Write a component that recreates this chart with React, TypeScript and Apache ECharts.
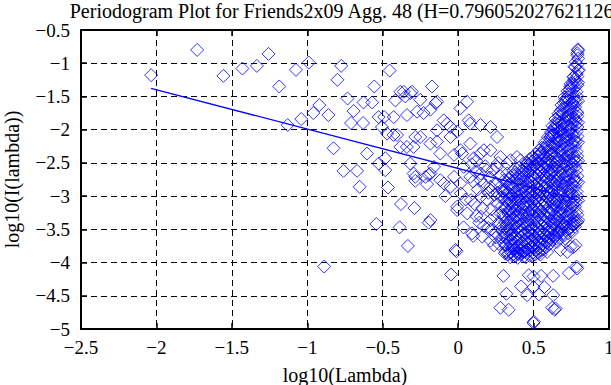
import React, { useEffect, useRef } from "react";
import * as echarts from "echarts";

const TITLE = "Periodogram Plot for Friends2x09 Agg. 48 (H=0.796052027621126)";
const X_NAME = "log10(Lambda)";
const Y_NAME = "log10(I(lambda))";
const X_MIN = -2.5;
const X_MAX = 1;
const Y_MIN = -5;
const Y_MAX = -0.5;
const TICK_STEP = 0.5;

// sparse low-frequency points
const lowFreqPoints: [number, number][] = [
  [-2.035, -1.18], [-1.73, -0.8], [-1.556, -1.19], [-1.43, -1.08], [-1.334, -1.04],
  [-1.257, -0.86], [-1.186, -1.35], [-1.075, -1.1], [-0.99, -0.99], [-1.13, -1.93],
  [-1.04, -1.84], [-0.96, -1.75], [-0.92, -1.63], [-0.86, -1.78], [-0.826, -2.28],
  [-0.775, -1.04], [-0.8, -1.25], [-0.76, -2.62], [-0.733, -1.53], [-0.556, -1.35],
  [-0.454, -1.11], [-0.693, -1.72], [-0.63, -1.9], [-0.71, -1.9], [-0.627, -1.59],
  [-0.57, -1.59], [-0.527, -1.81], [-0.505, -1.96], [-0.604, -2.36], [-0.67, -2.62],
  [-0.527, -2.51], [-0.483, -2.43], [-0.483, -2.61], [-0.653, -2.86], [-0.465, -2.87],
  [-0.542, -3.42], [-0.888, -4.06], [-0.427, -1.81], [-0.416, -1.56], [-0.36, -1.43],
  [-0.317, -1.45], [-0.405, -2.08], [-0.34, -2.26], [-0.284, -2.11], [-0.317, -2.51],
  [-0.284, -2.71], [-0.379, -3.12], [-0.29, -3.18], [-0.388, -3.47], [-0.333, -3.75],
  [-0.49, -1.81], [-0.383, -1.43], [-0.35, -1.5], [-0.306, -1.43], [-0.339, -1.78],
  [-0.471, -2.06], [-0.428, -2.08], [-0.383, -2.26], [-0.295, -2.26], [-0.295, -2.66],
];

// the left arm of the cloud
const armPoints: [number, number][] = [
  [-0.284, -2.77], [-0.206, -2.82], [-0.195, -2.68], [-0.085, -3.0], [-0.007, -3.16],
  [-0.195, -3.4], [-0.047, -4.18], [-0.018, -3.81], [-0.173, -1.35], [-0.251, -1.55],
  [-0.14, -1.58], [0.059, -1.58], [0.015, -1.68], [-0.272, -1.73], [-0.229, -1.75],
  [-0.184, -1.7], [-0.096, -1.86], [-0.051, -1.96], [-0.14, -2.01], [0.07, -1.86],
  [0.148, -1.93], [0.214, -1.96], [0.258, -2.11], [-0.251, -2.11], [-0.184, -2.21],
  [-0.051, -2.11], [0.015, -2.31], [0.081, -2.21], [0.148, -2.36], [0.214, -2.31],
  [0.28, -2.41], [0.347, -2.46], [0.413, -2.46], [0.457, -2.51], [0.524, -2.46],
  [0.546, -2.36], [0.59, -2.26], [0.612, -2.11], [0.634, -2.01], [-0.184, -2.66],
  [-0.118, -2.76], [-0.051, -2.86], [0.015, -2.81], [0.081, -2.71], [0.148, -2.76],
  [0.214, -2.86], [-0.15, -1.6], [-0.073, -1.91], [-0.007, -2.03], [0.08, -1.91],
  [-0.14, -2.18], [-0.217, -2.71], [-0.16, -2.56], [-0.094, -2.81], [-0.027, -2.71],
  [-0.118, -2.36], [-0.027, -2.38], [0.026, -2.36], [0.104, -2.43], [0.17, -2.31],
  [0.037, -2.56], [0.115, -2.63], [0.19, -2.61], [0.257, -2.56], [0.323, -2.51],
  [0.39, -2.41], [0.018, -2.96], [0.085, -3.06], [0.15, -3.01], [0.215, -2.91],
  [0.28, -2.86], [-0.184, -3.36], [-0.007, -3.21], [0.06, -3.26], [0.15, -3.31],
  [0.215, -3.36], [0.28, -3.26], [-0.011, -3.83], [0.092, -3.56], [0.036, -3.47],
  [0.16, -3.61], [0.215, -3.67], [0.238, -3.74],
];

// moderately dense band between the arm and the core
const bandPoints: [number, number][] = [
  [0.09, -2.52], [0.1, -2.78], [0.11, -3.12], [0.12, -2.47], [0.13, -2.9],
  [0.14, -3.4], [0.15, -2.66], [0.16, -3.18], [0.17, -2.83], [0.18, -2.55],
  [0.19, -3.05], [0.2, -3.48], [0.21, -2.72], [0.22, -3.2], [0.23, -2.6],
  [0.24, -2.98], [0.245, -3.55], [0.25, -2.8], [0.26, -3.12], [0.265, -2.5],
  [0.27, -3.4], [0.28, -2.7], [0.285, -3.02], [0.29, -3.62], [0.295, -2.92],
  [0.3, -3.28], [0.2, -2.95], [0.22, -3.5], [0.24, -3.3], [0.25, -3.62],
  [0.26, -2.95], [0.27, -3.72], [0.28, -3.48], [0.29, -3.15], [0.3, -3.55],
  [0.3, -2.95], [0.12, -3.3], [0.17, -3.45], [0.05, -3.05], [0.1, -3.6],
];

// lower tail and outliers of the cloud
const tailPoints: [number, number][] = [
  [0.3, -4.2], [0.32, -4.47], [0.28, -4.68], [0.335, -4.71], [0.418, -4.36],
  [0.457, -4.49], [0.535, -4.48], [0.5, -4.21], [0.468, -4.19], [0.572, -4.37],
  [0.63, -4.2], [0.623, -4.68], [0.64, -4.71], [0.63, -4.49], [0.734, -4.16],
  [0.785, -4.06], [0.763, -3.77], [0.724, -3.84], [0.39, -3.86], [0.5, -4.91],
  [0.502, -4.89], [0.313, -3.74], [0.335, -3.86], [0.368, -3.91], [0.535, -3.86],
  [0.59, -3.84], [0.39, -3.76], [0.434, -3.84], [0.678, -3.81], [0.745, -3.76],
  [0.778, -3.74], [0.767, -3.41], [0.79, -3.39], [0.789, -4.09], [0.645, -4.69],
  [0.5, -4.37], [0.55, -4.2],
];

// top of the high-frequency column
const columnTopPoints: [number, number][] = [
  [0.794, -0.79], [0.79, -0.85], [0.772, -1.05], [0.8, -1.1], [0.767, -1.2],
  [0.745, -1.35], [0.79, -1.33], [0.71, -1.55], [0.756, -1.6], [0.69, -1.75],
  [0.734, -1.81], [0.79, -1.75], [0.635, -2.06], [0.68, -2.0], [0.724, -2.06],
  [0.79, -1.96],
];

// dense core, first pass: column x positions and the y values read in each column
const coreX: number[] = [
  0.305, 0.315, 0.325, 0.335, 0.345, 0.355, 0.365, 0.375, 0.385, 0.395,
  0.405, 0.415, 0.425, 0.435, 0.445, 0.455, 0.465, 0.475, 0.485, 0.495,
  0.505, 0.515, 0.525, 0.535, 0.545, 0.555, 0.565, 0.575, 0.585, 0.595,
  0.605, 0.615, 0.625, 0.635, 0.645, 0.655, 0.665, 0.675, 0.685, 0.695,
  0.705, 0.715, 0.725, 0.735, 0.745, 0.755, 0.765, 0.775, 0.785, 0.795,
];
const coreY: number[][] = [
  [-2.76, -3.04, -3.31, -3.47, -3.71],
  [-2.91, -3.18, -3.56, -3.84],
  [-2.66, -2.98, -3.36, -3.63],
  [-2.83, -3.11, -3.27, -3.49, -3.79],
  [-2.71, -2.97, -3.22, -3.58, -3.92],
  [-2.87, -3.16, -3.43, -3.73],
  [-2.62, -3.03, -3.33, -3.64, -3.88],
  [-2.77, -2.94, -3.21, -3.53, -3.81],
  [-2.67, -3.09, -3.39, -3.69],
  [-2.84, -3.01, -3.29, -3.57, -3.93],
  [-2.57, -2.92, -3.14, -3.46, -3.76],
  [-2.74, -3.06, -3.34, -3.61, -3.87],
  [-2.61, -2.88, -3.19, -3.51, -3.78],
  [-2.79, -3.12, -3.41, -3.67, -3.91],
  [-2.54, -2.94, -3.24, -3.56, -3.83],
  [-2.49, -2.73, -3.01, -3.31, -3.59, -3.86],
  [-2.63, -2.87, -3.16, -3.44, -3.72],
  [-2.44, -2.78, -3.04, -3.36, -3.63, -3.9],
  [-2.57, -2.93, -3.21, -3.49, -3.77],
  [-2.41, -2.69, -2.99, -3.27, -3.58, -3.85],
  [-2.53, -2.84, -3.12, -3.43, -3.71],
  [-2.37, -2.66, -2.96, -3.24, -3.54, -3.82],
  [-2.51, -2.81, -3.08, -3.39, -3.66],
  [-2.31, -2.61, -2.89, -3.19, -3.51, -3.79],
  [-2.46, -2.74, -3.03, -3.33, -3.62, -3.88],
  [-2.27, -2.56, -2.86, -3.14, -3.44, -3.73],
  [-2.39, -2.68, -2.97, -3.29, -3.57, -3.8],
  [-2.19, -2.51, -2.79, -3.11, -3.41, -3.68],
  [-2.33, -2.63, -2.91, -3.23, -3.52, -3.77],
  [-2.11, -2.43, -2.72, -3.02, -3.33, -3.61],
  [-2.24, -2.54, -2.86, -3.16, -3.46, -3.72],
  [-2.04, -2.36, -2.66, -2.94, -3.26, -3.55],
  [-1.94, -2.21, -2.49, -2.77, -3.07, -3.38, -3.66],
  [-2.08, -2.34, -2.63, -2.93, -3.21, -3.5],
  [-1.84, -2.13, -2.41, -2.71, -3.01, -3.31, -3.6],
  [-1.98, -2.27, -2.56, -2.84, -3.14, -3.44, -3.69],
  [-1.76, -2.03, -2.33, -2.61, -2.92, -3.23, -3.52],
  [-1.89, -2.17, -2.47, -2.79, -3.09, -3.37, -3.63],
  [-1.63, -1.93, -2.23, -2.51, -2.81, -3.12, -3.41],
  [-1.77, -2.07, -2.38, -2.67, -2.98, -3.27, -3.56],
  [-1.51, -1.82, -2.12, -2.43, -2.72, -3.03, -3.32, -3.59],
  [-1.66, -1.96, -2.26, -2.54, -2.86, -3.16, -3.46],
  [-1.42, -1.71, -2.02, -2.31, -2.62, -2.91, -3.22, -3.51],
  [-1.56, -1.86, -2.16, -2.46, -2.76, -3.06, -3.36],
  [-1.31, -1.61, -1.91, -2.21, -2.49, -2.81, -3.11, -3.41],
  [-1.46, -1.74, -2.06, -2.36, -2.66, -2.96, -3.26, -3.54],
  [-1.21, -1.51, -1.81, -2.09, -2.41, -2.71, -3.01, -3.31],
  [-1.06, -1.36, -1.66, -1.94, -2.26, -2.56, -2.86, -3.16, -3.46],
  [-1.16, -1.43, -1.73, -2.03, -2.33, -2.61, -2.93, -3.23],
  [-0.81, -0.93, -1.11, -1.29, -1.57, -1.89, -2.19, -2.47, -2.79, -3.07, -3.36],
];

// dense core, second pass (in between the first columns)
const coreX2: number[] = [
  0.31, 0.32, 0.33, 0.34, 0.35, 0.36, 0.37, 0.38, 0.39, 0.4,
  0.41, 0.42, 0.43, 0.44, 0.45, 0.46, 0.47, 0.48, 0.49, 0.5,
  0.51, 0.52, 0.53, 0.54, 0.55, 0.56, 0.57, 0.58, 0.59, 0.6,
  0.61, 0.62, 0.63, 0.64, 0.65, 0.66, 0.67, 0.68, 0.69, 0.7,
  0.71, 0.72, 0.73, 0.74, 0.75, 0.76, 0.77, 0.78, 0.79,
];
const coreY2: number[][] = [
  [-2.9, -3.17, -3.39, -3.62, -3.86],
  [-2.78, -3.08, -3.45, -3.74],
  [-2.95, -3.23, -3.52, -3.88],
  [-2.74, -3.04, -3.38, -3.68],
  [-2.82, -3.09, -3.35, -3.66, -3.85],
  [-2.69, -2.99, -3.27, -3.57, -3.8],
  [-2.88, -3.13, -3.46, -3.74],
  [-2.64, -3.05, -3.31, -3.63, -3.9],
  [-2.74, -2.93, -3.22, -3.47, -3.82],
  [-2.69, -3.06, -3.37, -3.65, -3.87],
  [-2.82, -3.0, -3.25, -3.54, -3.81],
  [-2.66, -2.95, -3.27, -3.43, -3.71],
  [-2.72, -3.03, -3.3, -3.58, -3.84],
  [-2.64, -2.86, -3.17, -3.48, -3.75],
  [-2.61, -2.83, -3.1, -3.42, -3.7, -3.92],
  [-2.55, -2.8, -3.07, -3.37, -3.64, -3.8],
  [-2.52, -2.95, -3.26, -3.53, -3.82],
  [-2.61, -2.86, -3.13, -3.43, -3.7],
  [-2.48, -2.79, -3.07, -3.36, -3.66, -3.9],
  [-2.56, -2.92, -3.2, -3.49, -3.78],
  [-2.44, -2.73, -3.04, -3.33, -3.62, -3.88],
  [-2.58, -2.88, -3.16, -3.46, -3.74],
  [-2.41, -2.69, -2.99, -3.29, -3.58, -3.85],
  [-2.38, -2.66, -2.95, -3.25, -3.55, -3.72],
  [-2.34, -2.63, -2.92, -3.22, -3.52, -3.81],
  [-2.45, -2.77, -3.06, -3.36, -3.65],
  [-2.28, -2.59, -2.87, -3.17, -3.48, -3.74],
  [-2.41, -2.71, -3.0, -3.31, -3.6],
  [-2.22, -2.53, -2.82, -3.12, -3.43, -3.7],
  [-2.31, -2.61, -2.94, -3.24, -3.54, -3.66],
  [-2.15, -2.46, -2.77, -3.06, -3.37, -3.63],
  [-2.08, -2.35, -2.62, -2.91, -3.2, -3.48],
  [-1.99, -2.27, -2.56, -2.84, -3.14, -3.43, -3.6],
  [-1.96, -2.24, -2.53, -2.82, -3.12, -3.4],
  [-1.91, -2.2, -2.49, -2.78, -3.08, -3.37, -3.64],
  [-1.86, -2.15, -2.45, -2.74, -3.04, -3.33, -3.58],
  [-1.8, -2.1, -2.4, -2.7, -2.99, -3.3, -3.55],
  [-1.72, -2.02, -2.33, -2.64, -2.94, -3.24, -3.5],
  [-1.69, -1.99, -2.3, -2.59, -2.9, -3.19, -3.47],
  [-1.6, -1.9, -2.2, -2.52, -2.83, -3.13, -3.44],
  [-1.58, -1.88, -2.17, -2.48, -2.79, -3.09, -3.39, -3.64],
  [-1.52, -1.81, -2.11, -2.4, -2.7, -3.0, -3.3],
  [-1.47, -1.78, -2.08, -2.38, -2.68, -2.98, -3.28, -3.56],
  [-1.4, -1.7, -2.0, -2.3, -2.61, -2.93, -3.23, -3.49],
  [-1.36, -1.66, -1.97, -2.27, -2.57, -2.87, -3.17, -3.46],
  [-1.3, -1.6, -1.9, -2.2, -2.51, -2.82, -3.13, -3.43],
  [-1.25, -1.55, -1.85, -2.16, -2.46, -2.76, -3.06, -3.37],
  [-0.98, -1.28, -1.58, -1.87, -2.18, -2.48, -2.78, -3.08, -3.4],
  [-0.88, -1.02, -1.2, -1.5, -1.8, -2.1, -2.4, -2.7, -3.0, -3.28],
];

// least-squares fit line
const fitX: number[] = [-2.036, 0.798];
const fitY: number[] = [-1.378, -3.056];

const FONT = "Liberation Serif";
const BLUE = "#0000ff";

const fmt = (v: number) => {
  const r = Math.round(v * 10) / 10;
  return String(r).replace("-", "\u2212");
};

export default function App() {
  const ref = useRef<HTMLDivElement>(null);
  useEffect(() => {
    if (!ref.current) return;
    const chart = echarts.init(ref.current, undefined, { renderer: "svg" });
    const corePoints: [number, number][] = [];
    coreX.forEach((x, i) => coreY[i].forEach((y) => corePoints.push([x, y])));
    coreX2.forEach((x, i) => coreY2[i].forEach((y) => corePoints.push([x, y])));
    const allPoints = [
      ...lowFreqPoints,
      ...armPoints,
      ...bandPoints,
      ...tailPoints,
      ...columnTopPoints,
      ...corePoints,
    ];
    const axisLine = { show: true, onZero: false, lineStyle: { color: "#000", width: 2 } };
    const axisTick = { show: true, inside: true, length: 6, lineStyle: { color: "#000", width: 1.5 } };
    const splitLine = { show: true, lineStyle: { color: "#000", width: 1, type: [6, 4] as any } };
    const labelStyle = { color: "#000", fontFamily: FONT, fontSize: 19 };
    chart.setOption({
      animation: false,
      backgroundColor: "#fff",
      grid: {
        left: 81,
        right: 2,
        top: 30,
        bottom: 56,
        containLabel: false,
        outerBoundsMode: "none",
      },
      graphic: [
        {
          type: "text",
          x: 345,
          y: 1,
          style: {
            text: TITLE,
            fontFamily: FONT,
            fontSize: 20,
            fill: "#000",
            align: "center",
            verticalAlign: "top",
          },
        },
      ],
      xAxis: [
        {
          type: "value",
          position: "bottom",
          min: X_MIN,
          max: X_MAX,
          interval: TICK_STEP,
          axisLine,
          axisTick,
          splitLine,
          axisLabel: { ...labelStyle, margin: 9, formatter: fmt },
          name: X_NAME,
          nameLocation: "middle",
          nameGap: 36,
          nameTextStyle: { ...labelStyle, fontSize: 20 },
        },
        {
          type: "value",
          position: "top",
          min: X_MIN,
          max: X_MAX,
          interval: TICK_STEP,
          axisLine,
          axisTick,
          splitLine: { show: false },
          axisLabel: { show: false },
        },
      ],
      yAxis: [
        {
          type: "value",
          position: "left",
          min: Y_MIN,
          max: Y_MAX,
          interval: TICK_STEP,
          axisLine,
          axisTick,
          splitLine,
          axisLabel: { ...labelStyle, margin: 11, formatter: fmt },
          name: Y_NAME,
          nameLocation: "middle",
          nameGap: 59,
          nameRotate: 90,
          nameTextStyle: { ...labelStyle, fontSize: 20 },
        },
        {
          type: "value",
          position: "right",
          min: Y_MIN,
          max: Y_MAX,
          interval: TICK_STEP,
          axisLine,
          axisTick,
          splitLine: { show: false },
          axisLabel: { show: false },
        },
      ],
      series: [
        {
          type: "scatter",
          data: allPoints,
          symbol: "diamond",
          symbolSize: 13,
          silent: true,
          itemStyle: { color: "rgba(0,0,0,0)", borderColor: BLUE, borderWidth: 1 },
        },
        {
          type: "line",
          data: fitX.map((x, i) => [x, fitY[i]]),
          showSymbol: false,
          silent: true,
          lineStyle: { color: BLUE, width: 1.3 },
        },
      ],
    });
    return () => chart.dispose();
  }, []);
  return (
    <div
      ref={ref}
      style={{ position: "fixed", left: 0, top: 0, width: 611, height: 385, background: "#fff" }}
    />
  );
}
